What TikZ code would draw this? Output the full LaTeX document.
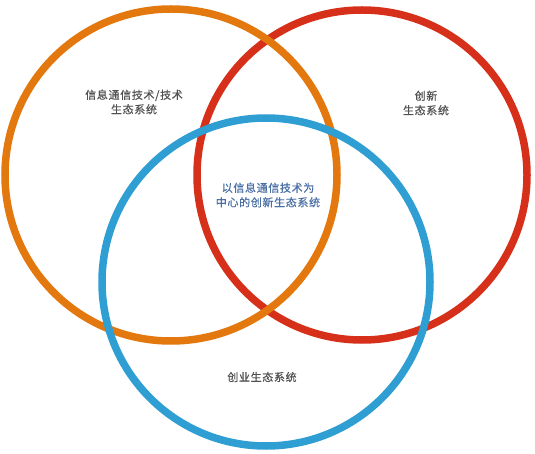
\documentclass[tikz,border=0pt]{standalone}
\usepackage{fontspec}
\newfontfamily\cjk[FakeBold=0.6, LetterSpace=6]{Noto Sans CJK SC}
\usepackage{tikz}
\definecolor{vorange}{HTML}{E3780F}
\definecolor{vred}{HTML}{D6301A}
\definecolor{vblue}{HTML}{2F9ED3}
\definecolor{vtext}{HTML}{505050}
\definecolor{vcenter}{HTML}{4A6FA5}

\begin{document}
\begin{tikzpicture}[x=1pt, y=-1pt,
  ring/.style={line width=7.5pt},
  lbl/.style={text=vtext, align=center, inner sep=0pt, font=\cjk\fontsize{11}{14.5}\selectfont}]
 \useasboundingbox (0,0) rectangle (535,454);
 % the three rings
 \draw[ring, vred] (362,175) circle (165);
 \draw[ring, vorange] (171,175) circle (166);
 \draw[ring, vblue] (266,282) circle (164);
 % labels
 \node[lbl] (ict) at (134,102) {信息通信技术/技术\\生态系统};
 \node[lbl] (innov) at (426,103) {创新\\生态系统};
 \node[lbl, text=vcenter] (core) at (268,195) {以信息通信技术为\\中心的创新生态系统};
 \node[lbl] (startup) at (262,377) {创业生态系统};
\end{tikzpicture}
\end{document}
